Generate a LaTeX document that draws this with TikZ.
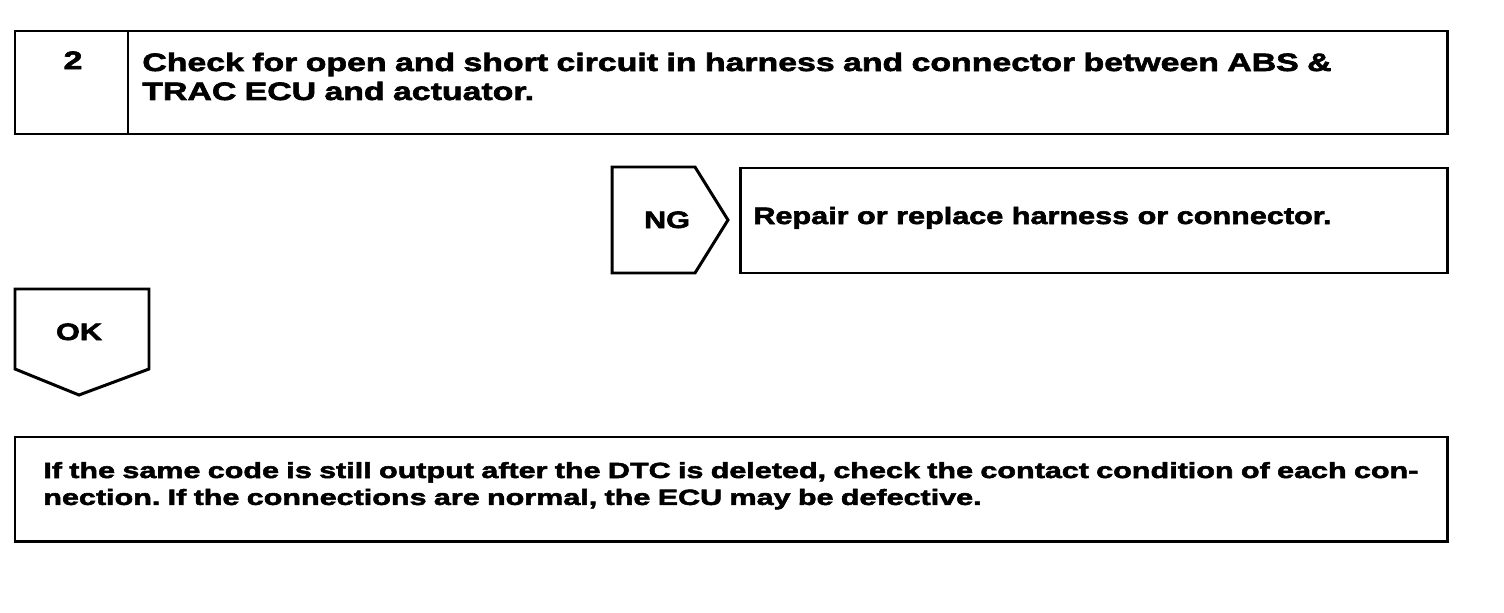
\documentclass[tikz,border=0pt]{standalone}
\usepackage{fontspec}
\setmainfont{Liberation Sans}
\newfontfamily\stepfont{Liberation Sans}[FakeStretch=1.347, FakeBold=2.5]
\newfontfamily\tagfont{Liberation Sans}[FakeStretch=1.29, FakeBold=2.5]
\newfontfamily\notefont{Liberation Sans}[FakeStretch=1.39, FakeBold=2.5]
\frenchspacing
\usetikzlibrary{positioning}

\begin{document}
\begin{tikzpicture}[x=0.02cm, y=-0.02cm,
    frame/.style={draw, line width=1.7pt, line join=miter},
    bigtext/.style={font=\fontsize{14.3}{16.5}\stepfont\bfseries, inner sep=0pt},
    tagtext/.style={font=\fontsize{13.5}{16.5}\tagfont\bfseries, inner sep=0pt},
    bodytext/.style={font=\fontsize{12.5}{15.3}\notefont\bfseries, inner sep=0pt, align=left, anchor=base west}]
  \useasboundingbox (0,0) rectangle (1504,612);
  % step box
  \draw [frame] (15,31) rectangle (1447,134);
  \draw [frame] (128,31) -- (128,134);
  \node [bigtext, anchor=base] (step) at (73,69) {2};
  \node [bigtext, anchor=base west, text width=27cm, align=left] (check) at (142,71)
    {Check for open and short circuit in harness and connector between ABS \&\\TRAC ECU and actuator.};
  % NG branch
  \draw [frame] (612,167) -- (695,167) -- (728,220) -- (695,273) -- (612,273) -- cycle;
  \node [tagtext, anchor=base] (ng) at (667,228) {NG};
  \draw [frame] (740,168) rectangle (1447,273);
  \node [tagtext, anchor=base west] (repair) at (753,224) {Repair or replace harness or connector.};
  % OK branch
  \draw [frame] (15,289) -- (149,289) -- (149,369) -- (79,395) -- (15,369) -- cycle;
  \node [tagtext, anchor=base] (ok) at (79,340) {OK};
  \draw [frame] (15,437) rectangle (1447,541);
  \node [bodytext, text width=28.5cm] (result) at (43,478)
    {If the same code is still output after the DTC is deleted, check the contact condition of each con-\\nection. If the connections are normal, the ECU may be defective.};
\end{tikzpicture}
\end{document}
